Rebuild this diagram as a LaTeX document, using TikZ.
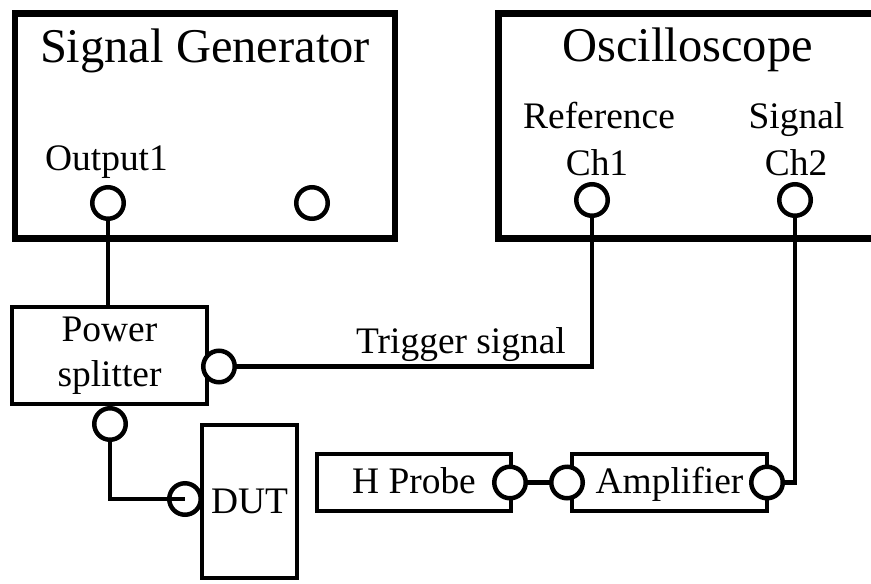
\documentclass[tikz,border=0pt]{standalone}
\usepackage{fontspec}
\setmainfont{Liberation Serif}
\newcommand{\bigtext}{\fontsize{27.6}{33}\selectfont}
\newcommand{\smalltext}{\fontsize{21.3}{25.6}\selectfont}
\usepackage{tikz}
\usetikzlibrary{positioning, calc, shapes}
\tikzset{
	devicenode/.style={
			shape=rectangle,
			draw=black,
			line width=0.13cm,
			minimum width=7.6cm,
			minimum height=4.5cm,
			inner sep=0pt
		},
	unitnode/.style={
			shape=rectangle,
			draw=black,
			line width=0.09cm,
			fill=white,
			inner sep=0pt,
			align=center,
			font=\smalltext
		},
	slimnode/.style={
			unitnode,
			minimum height=1.14cm,
			text height=0.6cm,
			text depth=0.18cm
		},
	portnode/.style={
			circle,
			draw=black,
			line width=0.09cm,
			fill=white,
			minimum size=0.63cm,
			inner sep=0pt
		}
}
\tikzset{
	titletext/.style={font=\bigtext, anchor=base, inner sep=0pt},
	labeltext/.style={font=\smalltext, anchor=base, inner sep=0pt},
	wire/.style={line width=0.085cm}
}
\begin{document}
\begin{tikzpicture}

    \useasboundingbox (0,0) rectangle (17.42,-11.66);
    \clip (0,0) rectangle (17.42,-11.66);

    % instruments
    \node[devicenode] (gen) at (4.10,-2.52) {};
    \node[devicenode, minimum width=8.63cm] (osc) at (14.285,-2.52) {};
    \node[titletext] (gentitle) at (4.10,-1.24) {Signal Generator};
    \node[titletext] (osctitle) at (13.75,-1.234) {Oscilloscope};

    \node[labeltext] (l1) at (2.13,-3.40) {Output1};
    \node[labeltext] (l2) at (11.98,-2.56) {Reference};
    \node[labeltext] (l3) at (11.94,-3.50) {Ch1};
    \node[labeltext] (l4) at (15.93,-2.56) {Signal};
    \node[labeltext] (l5) at (15.92,-3.50) {Ch2};

    % units
    \node[unitnode, minimum width=3.9cm, minimum height=1.94cm] (split) at (2.19,-7.11) {Power\\splitter};
    \node[unitnode, minimum width=1.9cm, minimum height=3.06cm] (dut) at (4.99,-10.03) {DUT};
    \node[slimnode, minimum width=3.88cm] (probe) at (8.28,-9.65) {H Probe};
    \node[slimnode, minimum width=3.9cm] (amp) at (13.39,-9.65) {Amplifier};

    % ports
    \node[portnode] (out1) at (2.16,-4.06) {};
    \node[portnode] (out2) at (6.24,-4.06) {};
    \node[portnode] (ch1) at (11.84,-4.00) {};
    \node[portnode] (ch2) at (15.90,-4.00) {};
    \node[portnode] (splitr) at (4.38,-7.33) {};
    \node[portnode] (splitb) at (2.20,-8.48) {};
    \node[portnode] (dutin) at (3.70,-9.98) {};
    \node[portnode] (probeout) at (10.20,-9.65) {};
    \node[portnode] (ampin) at (11.34,-9.65) {};
    \node[portnode] (ampout) at (15.34,-9.65) {};

    % cables
    \draw[wire] (out1.south) -- (out1.south |- split.north);
    \draw[wire] (splitr.east) -| (ch1.south);
    \draw[wire] (splitb.south) |- (dutin.center);
    \draw[wire] (probeout.east) -- (ampin.west);
    \draw[wire] (ampout.east) -| (ch2.south);

    \node[labeltext] (trig) at (9.22,-7.06) {Trigger signal};

\end{tikzpicture}
\end{document}
